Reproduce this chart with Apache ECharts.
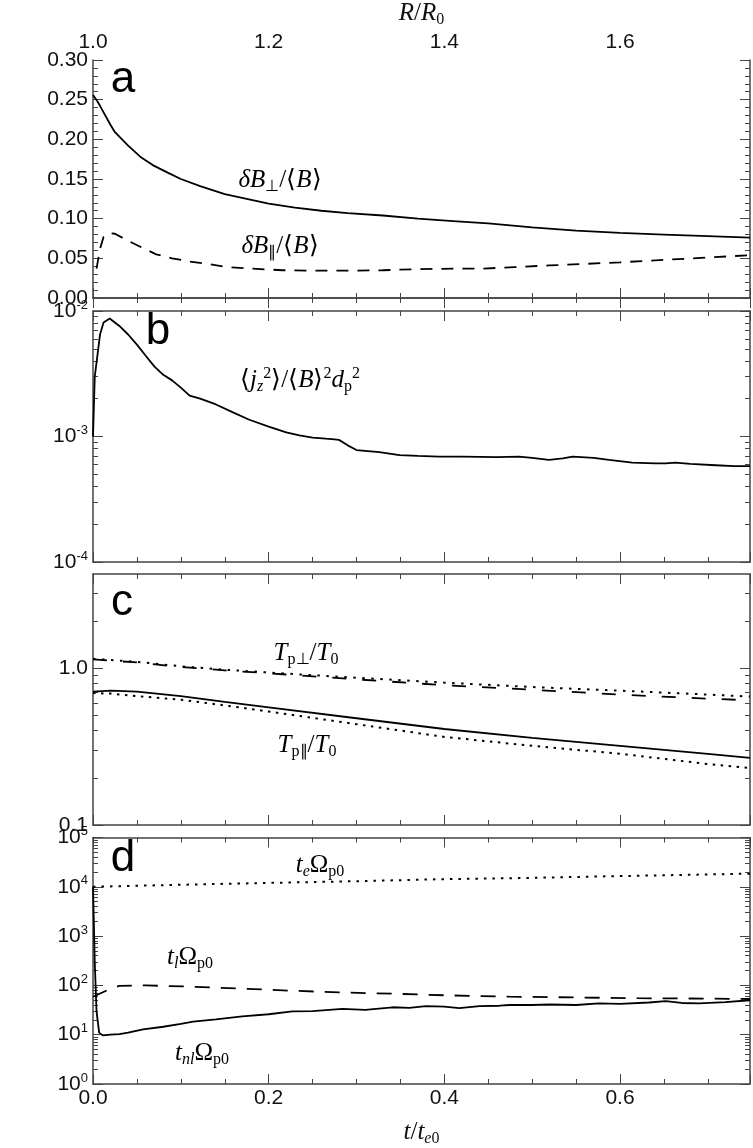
<!DOCTYPE html>
<html>
<head>
<meta charset="utf-8">
<script src="https://cdn.jsdelivr.net/npm/echarts@6.0.0/dist/echarts.min.js"></script>
<style>
  html, body { margin: 0; padding: 0; background: #fff; }
  #main { width: 753px; height: 1148px; }
</style>
</head>
<body>
<div id="main"></div>
<script>
// panel a: magnetic fluctuations
var tBperp = [0, 0.005, 0.01, 0.02, 0.025, 0.04, 0.055, 0.068, 0.085, 0.1, 0.122, 0.15, 0.175, 0.2, 0.23, 0.26, 0.29, 0.33, 0.37, 0.41, 0.45, 0.5, 0.55, 0.6, 0.65, 0.7, 0.748]
var dBperp = [0.256, 0.248, 0.238, 0.218, 0.209, 0.192, 0.177, 0.1675, 0.158, 0.150, 0.141, 0.131, 0.125, 0.119, 0.114, 0.110, 0.107, 0.104, 0.100, 0.097, 0.094, 0.089, 0.085, 0.082, 0.080, 0.078, 0.076]
var tBpar = [0.004, 0.008, 0.012, 0.018, 0.025, 0.04, 0.055, 0.072, 0.09, 0.11, 0.13, 0.152, 0.18, 0.216, 0.25, 0.292, 0.33, 0.368, 0.41, 0.443, 0.48, 0.519, 0.56, 0.6, 0.65, 0.7, 0.748]
var dBpar = [0.037, 0.062, 0.077, 0.082, 0.081, 0.072, 0.064, 0.055, 0.050, 0.046, 0.043, 0.039, 0.037, 0.035, 0.0345, 0.0344, 0.035, 0.0364, 0.037, 0.037, 0.039, 0.041, 0.043, 0.045, 0.048, 0.051, 0.054]

// panel b: current density
var tJ = [0, 0.002, 0.005, 0.008, 0.012, 0.019, 0.03, 0.04, 0.05, 0.06, 0.07, 0.08, 0.09, 0.1, 0.11, 0.122, 0.14, 0.16, 0.178, 0.2, 0.22, 0.235, 0.25, 0.265, 0.275, 0.28, 0.29, 0.3, 0.326, 0.349, 0.37, 0.394, 0.42, 0.46, 0.485, 0.5, 0.519, 0.535, 0.546, 0.57, 0.5875, 0.614, 0.64, 0.652, 0.663, 0.68, 0.709, 0.73, 0.748]
var jz = [1.0e-3, 3.0e-3, 4.4e-3, 6.5e-3, 8.1e-3, 8.7e-3, 7.6e-3, 6.5e-3, 5.4e-3, 4.4e-3, 3.6e-3, 3.1e-3, 2.8e-3, 2.45e-3, 2.12e-3, 2.0e-3, 1.8e-3, 1.55e-3, 1.36e-3, 1.2e-3, 1.08e-3, 1.02e-3, 9.8e-4, 9.6e-4, 9.5e-4, 9.4e-4, 8.5e-4, 7.8e-4, 7.5e-4, 7.1e-4, 7.0e-4, 6.9e-4, 6.9e-4, 6.85e-4, 6.9e-4, 6.75e-4, 6.5e-4, 6.7e-4, 6.9e-4, 6.75e-4, 6.5e-4, 6.2e-4, 6.1e-4, 6.1e-4, 6.2e-4, 6.05e-4, 5.9e-4, 5.8e-4, 5.8e-4]

// panel c: proton temperatures
var tT = [0, 0.02, 0.05, 0.1, 0.15, 0.2, 0.3, 0.4, 0.5, 0.6, 0.7, 0.748]
var TperpA = [1.15, 1.13, 1.10, 1.03, 0.98, 0.94, 0.87, 0.81, 0.76, 0.72, 0.68, 0.66]
var TperpB = [1.14, 1.12, 1.09, 1.02, 0.97, 0.93, 0.85, 0.78, 0.73, 0.68, 0.64, 0.625]
var TparA = [0.71, 0.72, 0.71, 0.665, 0.61, 0.563, 0.48, 0.41, 0.36, 0.32, 0.284, 0.268]
var TparB = [0.695, 0.69, 0.665, 0.63, 0.58, 0.53, 0.44, 0.365, 0.32, 0.285, 0.245, 0.231]

// panel d: time scales
var tTe = [0, 0.1, 0.2, 0.3, 0.4, 0.5, 0.6, 0.7, 0.748]
var te = [1.0e4, 1.1e4, 1.2e4, 1.3e4, 1.43e4, 1.52e4, 1.65e4, 1.78e4, 1.85e4]
var tTl = [0, 0.015, 0.03, 0.06, 0.114, 0.17, 0.227, 0.28, 0.341, 0.4, 0.474, 0.55, 0.62, 0.7, 0.748]
var tl = [59, 78, 98, 100, 94, 86, 78, 72, 68, 63, 59, 57, 55, 54, 53]
var tTnl = [0, 0.002, 0.004, 0.007, 0.011, 0.02, 0.03, 0.04, 0.057, 0.08, 0.1, 0.114, 0.14, 0.17, 0.2, 0.227, 0.25, 0.284, 0.31, 0.341, 0.36, 0.379, 0.4, 0.417, 0.44, 0.463, 0.474, 0.5, 0.52, 0.55, 0.576, 0.6, 0.633, 0.652, 0.67, 0.69, 0.72, 0.748]
var tnl = [1e4, 300, 30, 11, 9.7, 10, 10.3, 11, 12.8, 14.5, 16.5, 18.5, 20.5, 23.5, 26, 29.6, 30, 33.5, 32, 36, 35, 38, 37, 34.5, 38, 38.7, 40, 40, 41, 40, 43, 42, 45, 48, 44, 43, 46, 50]

// ticks
var minorB = [2e-4, 3e-4, 4e-4, 5e-4, 6e-4, 7e-4, 8e-4, 9e-4, 2e-3, 3e-3, 4e-3, 5e-3, 6e-3, 7e-3, 8e-3, 9e-3]
var minorC = [0.2, 0.3, 0.4, 0.5, 0.6, 0.7, 0.8, 0.9, 2, 3]
var minorD = []
;[1, 10, 100, 1000, 10000].forEach(function (d) {
  for (var k = 2; k <= 9; k++) minorD.push(k * d)
})

var TMAX = 0.748
var tops = [47, 311, 574, 837.5]
var H = 251
var sans = 'Liberation Sans'
var serif = 'Liberation Serif'
var axisColor = '#444'
var FS = 21

function pairs(x, y) {
  return x.map(function (v, i) { return [v, y[i]] })
}

var mathRich = {
  i: { fontFamily: serif, fontStyle: 'italic', fontSize: 25, color: '#111' },
  n: { fontFamily: serif, fontSize: 25, color: '#111' },
  s: { fontFamily: serif, fontSize: 16, color: '#111', padding: [13, 0, 0, 0] },
  si: { fontFamily: serif, fontStyle: 'italic', fontSize: 16, color: '#111', padding: [13, 0, 0, 0] },
  p: { fontFamily: serif, fontSize: 16, color: '#111', padding: [0, 0, 12, 0] }
}

var powRich = {
  b: { fontFamily: sans, fontSize: FS, color: '#111' },
  e: { fontFamily: sans, fontSize: 13, color: '#111', padding: [0, 0, 12, 0] }
}

function powLabel(v) {
  return '{b|10}{e|' + Math.round(Math.log10(v)) + '}'
}

var xAxes = []
var yAxes = []
tops.forEach(function (top, i) {
  var bottomLabels = i === 3
  xAxes.push({
    type: 'value', gridIndex: i, position: 'bottom', min: 0, max: TMAX, interval: 0.2,
    axisLine: { lineStyle: { color: axisColor, width: 1.5 } },
    axisTick: { inside: true, length: 10, lineStyle: { color: axisColor } },
    minorTick: { show: true, splitNumber: 4, length: 5, lineStyle: { color: axisColor } },
    splitLine: { show: false },
    axisLabel: {
      show: bottomLabels, showMaxLabel: false, fontFamily: sans, fontSize: FS, color: '#111', margin: 4,
      formatter: function (v) { return v.toFixed(1) }
    },
    name: bottomLabels ? '{i|t}{n|/}{i|t}{si|e}{s|0}' : '',
    nameLocation: 'middle', nameGap: 34,
    nameTextStyle: { rich: mathRich }
  })
  var topLabels = i === 0
  xAxes.push({
    type: 'value', gridIndex: i, position: 'top', min: topLabels ? 1 : 0, max: topLabels ? 1 + TMAX : TMAX, interval: 0.2,
    axisLine: { lineStyle: { color: axisColor, width: 1.5 } },
    axisTick: { inside: true, length: 10, lineStyle: { color: axisColor } },
    minorTick: { show: true, splitNumber: 4, length: 5, lineStyle: { color: axisColor } },
    splitLine: { show: false },
    axisLabel: {
      show: topLabels, showMaxLabel: false, fontFamily: sans, fontSize: FS, color: '#111', margin: 7,
      formatter: function (v) { return v.toFixed(1) }
    },
    name: topLabels ? '{i|R}{n|/}{i|R}{s|0}' : '',
    nameLocation: 'middle', nameGap: 32,
    nameTextStyle: { rich: mathRich }
  })
})

// panel a: linear y
;['left', 'right'].forEach(function (pos) {
  yAxes.push({
    type: 'value', gridIndex: 0, position: pos, min: 0, max: 0.3, interval: 0.05,
    axisLine: { show: true, lineStyle: { color: axisColor, width: 1.5 } },
    axisTick: { show: true, inside: true, length: 10, lineStyle: { color: axisColor } },
    minorTick: { show: true, splitNumber: 5, length: 5, lineStyle: { color: axisColor } },
    splitLine: { show: false },
    axisLabel: {
      show: pos === 'left', fontFamily: sans, fontSize: FS, color: '#111', margin: 5,
      formatter: function (v) { return v.toFixed(2) }
    }
  })
})

function logAxes(gi, min, max, majors, minors, fmt) {
  ;['left', 'right'].forEach(function (pos) {
    yAxes.push({
      type: 'log', logBase: 10, gridIndex: gi, position: pos, min: min, max: max,
      axisLine: { show: true, lineStyle: { color: axisColor, width: 1.5 } },
      axisTick: { show: true, inside: true, length: 10, customValues: majors, lineStyle: { color: axisColor } },
      splitLine: { show: false },
      axisLabel: {
        show: pos === 'left', customValues: majors, margin: 5,
        fontFamily: sans, fontSize: FS, color: '#111',
        formatter: fmt, rich: powRich
      }
    })
    yAxes.push({
      type: 'log', logBase: 10, gridIndex: gi, position: pos, min: min, max: max,
      axisLine: { show: false },
      axisTick: { show: true, inside: true, length: 5, customValues: minors, lineStyle: { color: axisColor } },
      splitLine: { show: false },
      axisLabel: { show: false }
    })
  })
}
logAxes(1, 1e-4, 1e-2, [1e-4, 1e-3, 1e-2], minorB, powLabel)
logAxes(2, 0.1, 4, [0.1, 1], minorC, function (v) { return v.toFixed(1) })
logAxes(3, 1, 1e5, [1, 10, 100, 1000, 10000, 100000], minorD, powLabel)

function line(xi, yi, data, type, width) {
  return {
    type: 'line', xAxisIndex: xi, yAxisIndex: yi, data: data,
    showSymbol: false, symbol: 'none', animation: false, clip: true,
    lineStyle: { color: '#000', width: width || 1.8, type: type || 'solid', cap: 'butt' }
  }
}

function label(x, y, text) {
  return { type: 'text', x: x, y: y, style: { text: text, rich: mathRich, align: 'center', verticalAlign: 'middle' } }
}

function letter(x, y, ch) {
  return { type: 'text', x: x, y: y, style: { text: ch, font: '44px ' + sans, fill: '#000', align: 'center', verticalAlign: 'middle' } }
}

var chart = echarts.init(document.getElementById('main'))
chart.setOption({
  backgroundColor: '#fff',
  animation: false,
  grid: tops.map(function (t) {
    return { left: 93, right: 3, top: t, height: H, containLabel: false }
  }),
  xAxis: xAxes,
  yAxis: yAxes,
  series: [
    line(0, 0, pairs(tBperp, dBperp)),
    line(0, 0, pairs(tBpar, dBpar), [12, 9]),
    line(2, 2, pairs(tJ, jz)),
    line(4, 6, pairs(tT, TperpA), [2.5, 6.5], 2),
    line(4, 6, pairs(tT, TperpB), [14, 16]),
    line(4, 6, pairs(tT, TparA)),
    line(4, 6, pairs(tT, TparB), [2.5, 5.5], 2),
    line(6, 10, pairs(tTe, te), [2.5, 6], 2),
    line(6, 10, pairs(tTl, tl), [15, 11]),
    line(6, 10, pairs(tTnl, tnl))
  ],
  graphic: [
    letter(123, 80, 'a'),
    letter(158, 332, 'b'),
    letter(122, 603, 'c'),
    letter(123, 859, 'd'),
    label(280, 180, '{i|δB}{s|⊥}{n|/⟨}{i|B}{n|⟩}'),
    label(280, 246, '{i|δB}{s|∥}{n|/⟨}{i|B}{n|⟩}'),
    label(300, 380, '{n|⟨}{i|j}{si|z}{p|2}{n|⟩/⟨}{i|B}{n|⟩}{p|2}{i|d}{s|p}{p|2}'),
    label(306, 653, '{i|T}{s|p⊥}{n|/}{i|T}{s|0}'),
    label(307, 745, '{i|T}{s|p∥}{n|/}{i|T}{s|0}'),
    label(320, 865, '{i|t}{si|e}{n|Ω}{s|p0}'),
    label(190, 957, '{i|t}{si|l}{n|Ω}{s|p0}'),
    label(202, 1053, '{i|t}{si|nl}{n|Ω}{s|p0}')
  ]
})
</script>
</body>
</html>
